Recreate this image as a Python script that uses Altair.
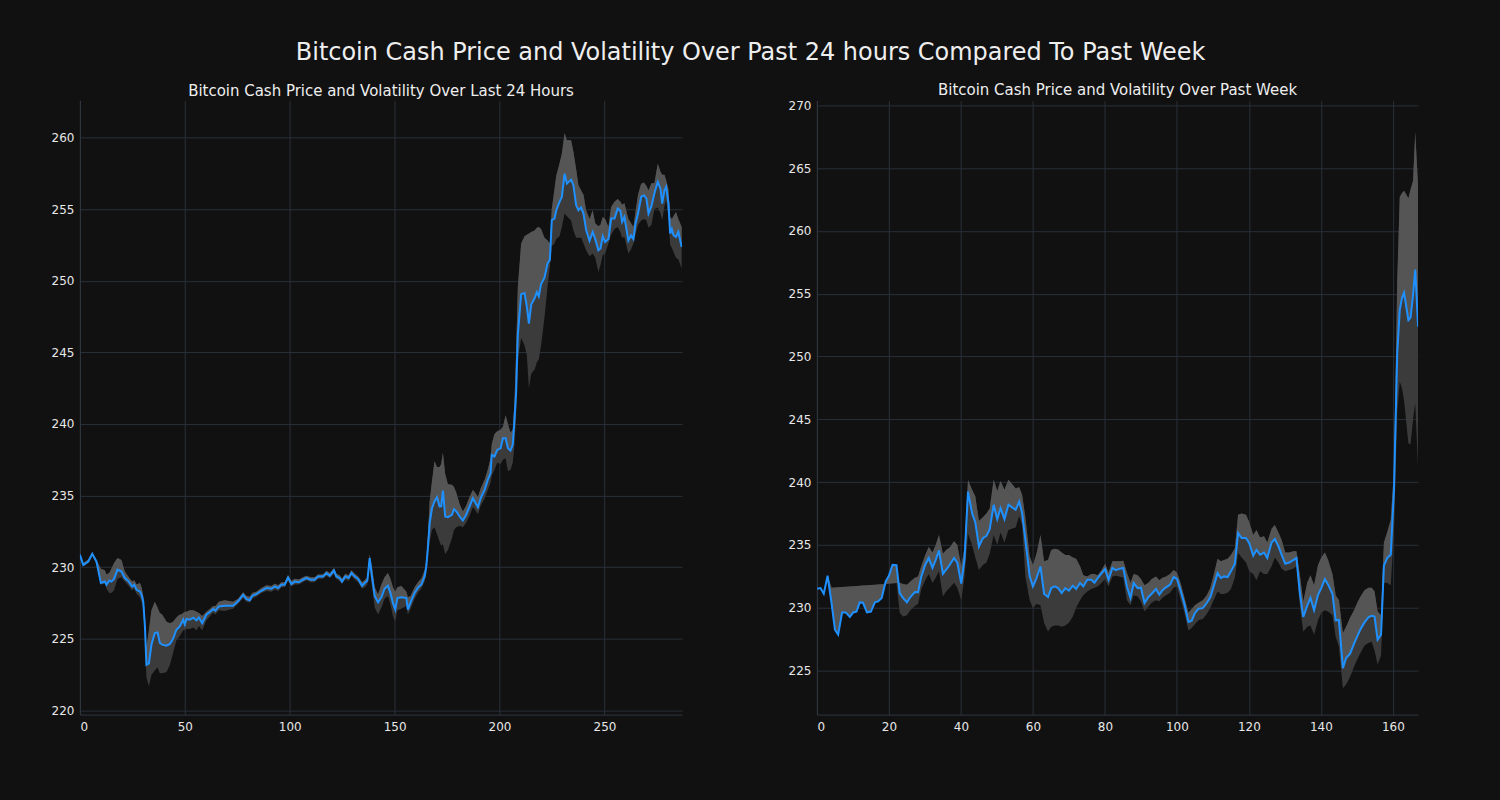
import altair as alt
import pandas as pd

# ---------------- Past 24 hours (5-minute steps) ----------------
day_x = [0, 1.6, 4, 5.9, 7.9, 10, 11.9, 12.7, 14, 15, 16.3, 17.9, 19.8, 21.4, 23.3, 24.9, 25.9, 27, 28.6, 29.4,
         30.2, 31, 31.7, 32.9, 34.1, 35.7, 37, 38.1, 39.2, 41.3, 42.9, 44.4, 46, 47.6, 48.4, 49.2, 50, 50.8, 52.4, 54,
         55.6, 56.7, 58.3, 60.3, 62.7, 63.5, 64.6, 66.2, 69, 73, 75.4, 77.8, 79.4, 81, 82.1, 84.1, 86.5, 88.9, 91.3, 92.9,
         94.5, 96, 97.6, 99.2, 100.8, 102.4, 104.3, 106.3, 107.9, 110, 111.9, 113.5, 115.9, 117.5, 119.1, 121.1, 122.2, 123.8, 124.9, 126.5,
         128.1, 129.4, 131, 132.6, 134.5, 135.7, 137, 138.1, 139.2, 140.5, 142.1, 143.7, 145.2, 146.8, 148, 149.2, 150.3, 151.3, 153.2, 155.6,
         156.3, 157.6, 159.5, 161.4, 162.7, 164.3, 165.1, 165.9, 166.7, 167.8, 169, 170.2, 171.4, 172.2, 173, 174.1, 175.4, 177.3, 178.3, 179.4,
         181, 182.5, 184.1, 185.7, 187.3, 188.4, 189.7, 191, 192.9, 194.4, 195.7, 196.3, 197.6, 198.9, 200.5, 201.6, 202.9, 204, 205.2, 206.3,
         207.1, 207.9, 208.7, 210.3, 211.9, 213, 214, 215.1, 216.7, 217.8, 218.7, 219.8, 221.4, 222.9, 224, 224.9, 226.2, 227, 228.6, 229.7,
         231, 232.1, 234.1, 235.2, 236.5, 237.6, 238.9, 240, 241.3, 242.9, 244.4, 245.6, 247.1, 248.1, 249.2, 250.3, 251.9, 253.2, 254.8, 256.3,
         257.6, 258.4, 259.5, 261.4, 262.7, 263.8, 264.8, 266, 267.5, 268.8, 270, 271, 272.4, 273.8, 275.4, 276.7, 277.5, 278.6, 279.4, 280.5,
         281.3, 282.1, 282.9, 284.1, 285.2, 286.8]
day_price = [230.87, 230.17, 230.4, 230.94, 230.4, 228.9, 229.0, 228.78, 229.08, 229.0, 229.18, 229.83, 229.7, 229.25, 229.0, 228.66, 228.78, 228.43, 228.31, 228.08,
             227.6, 225.87, 223.2, 223.3, 224.6, 225.41, 225.45, 224.72, 224.6, 224.53, 224.65, 225.0, 225.64, 225.87, 226.1, 226.34, 226.0, 226.39, 226.34, 226.48,
             226.3, 226.5, 226.1, 226.69, 226.97, 227.08, 226.97, 227.27, 227.32, 227.32, 227.62, 228.08, 227.78, 227.7, 228.0, 228.13, 228.36, 228.55, 228.5, 228.66,
             228.55, 228.78, 228.78, 229.29, 228.83, 229.0, 228.95, 229.13, 229.25, 229.13, 229.13, 229.36, 229.36, 229.6, 229.41, 229.78, 229.36, 229.25, 229.0, 229.36,
             229.25, 229.6, 229.36, 229.18, 228.71, 228.9, 229.06, 230.64, 229.36, 228.0, 227.55, 227.9, 228.5, 228.71, 228.2, 227.5, 227.04, 227.85, 227.9, 227.85,
             227.04, 227.55, 228.2, 228.62, 228.78, 229.36, 230.06, 231.45, 233.08, 234.12, 234.59, 234.89, 234.24, 234.25, 235.35, 233.54, 233.5, 233.66, 234.05, 233.9,
             233.54, 233.26, 233.66, 234.24, 234.82, 234.52, 234.19, 234.82, 235.4, 236.1, 236.56, 237.84, 237.72, 238.19, 238.3, 239.0, 239.0, 238.3, 238.14, 238.54,
             240.28, 242.14, 246.2, 249.06, 249.14, 248.2, 247.0, 248.34, 248.77, 249.2, 248.9, 249.77, 250.2, 251.2, 251.47, 254.23, 254.33, 254.9, 255.5, 255.84,
             257.47, 256.77, 257.05, 256.66, 255.26, 254.91, 255.1, 254.68, 253.52, 252.78, 253.4, 252.9, 252.13, 252.25, 253.1, 252.7, 252.9, 254.33, 254.33, 255.03,
             254.87, 254.1, 254.45, 252.8, 253.17, 252.9, 253.98, 254.68, 255.84, 255.96, 255.73, 254.68, 255.2, 256.1, 256.89, 256.42, 255.38, 256.3, 256.54, 255.38,
             253.29, 253.6, 253.17, 253.05, 253.4, 252.35]
day_low = [230.7, 230.05, 230.3, 230.8, 230.2, 228.8, 228.85, 228.5, 228.2, 228.2, 228.4, 229.2, 229.3, 229.0, 228.7, 228.4, 228.5, 228.15, 227.9, 227.6,
           227.2, 225.0, 222.3, 221.7, 222.5, 222.8, 223.0, 222.6, 222.6, 222.7, 223.2, 224.0, 224.9, 225.2, 225.4, 225.6, 225.6, 225.7, 225.7, 225.8,
           225.6, 225.9, 225.6, 226.3, 226.7, 226.85, 226.7, 227.0, 226.95, 227.1, 227.45, 227.85, 227.6, 227.55, 227.8, 227.95, 228.2, 228.35, 228.3, 228.45,
           228.35, 228.6, 228.6, 229.05, 228.65, 228.8, 228.8, 228.95, 229.1, 228.95, 228.95, 229.2, 229.2, 229.4, 229.25, 229.55, 229.2, 229.05, 228.85, 229.15,
           229.05, 229.4, 229.15, 228.95, 228.5, 228.6, 228.8, 229.9, 228.7, 227.2, 226.7, 227.2, 227.8, 228.0, 227.4, 226.6, 226.2, 227.0, 227.1, 227.3,
           226.7, 227.1, 227.8, 228.3, 228.5, 229.0, 229.6, 230.8, 231.8, 232.6, 232.8, 232.3, 231.8, 231.5, 231.6, 230.9, 231.2, 232.0, 232.6, 232.8,
           232.9, 232.8, 233.1, 233.6, 234.2, 234.0, 233.7, 234.3, 234.8, 235.4, 235.9, 236.4, 236.8, 237.3, 237.2, 237.5, 237.6, 236.7, 236.8, 237.3,
           238.5, 240.5, 244.5, 246.0, 245.5, 244.8, 242.5, 243.5, 243.8, 244.3, 244.5, 245.5, 247.4, 249.6, 251.0, 252.4, 252.6, 252.9, 253.1, 253.75,
           254.68, 254.5, 254.2, 253.5, 253.0, 253.0, 253.0, 252.6, 252.1, 251.7, 251.9, 251.6, 250.6, 251.1, 251.8, 251.9, 252.6, 253.2, 253.6, 253.75,
           253.4, 253.0, 253.05, 251.9, 252.2, 252.6, 253.2, 253.9, 254.2, 254.3, 254.2, 253.7, 253.9, 255.0, 255.1, 254.7, 254.2, 255.2, 255.6, 254.5,
           252.5, 252.3, 252.0, 251.6, 251.5, 250.85]
day_high = [231.0, 230.3, 230.55, 231.05, 230.5, 229.9, 229.8, 229.5, 229.6, 229.9, 230.3, 230.64, 230.5, 229.7, 229.3, 229.0, 229.1, 228.8, 228.9, 228.6,
            228.0, 226.6, 224.4, 225.6, 227.0, 227.6, 227.2, 226.8, 226.7, 226.2, 226.1, 226.2, 226.5, 226.7, 226.7, 226.8, 226.9, 226.9, 227.0, 227.0,
            226.9, 226.8, 226.6, 226.9, 227.2, 227.3, 227.3, 227.6, 227.7, 227.6, 227.8, 228.25, 228.0, 227.95, 228.2, 228.3, 228.55, 228.75, 228.7, 228.85,
            228.75, 228.95, 228.95, 229.45, 229.05, 229.2, 229.15, 229.3, 229.4, 229.3, 229.3, 229.5, 229.5, 229.75, 229.6, 229.95, 229.55, 229.45, 229.2, 229.55,
            229.45, 229.8, 229.55, 229.35, 228.95, 229.1, 229.3, 230.9, 230.0, 228.6, 228.1, 228.8, 229.3, 229.6, 229.2, 228.6, 228.3, 228.6, 228.7, 228.3,
            227.9, 228.0, 228.6, 229.0, 229.2, 229.8, 230.5, 232.3, 234.6, 236.0, 237.4, 237.0, 237.0, 237.2, 238.0, 236.5, 235.8, 235.75, 235.6, 235.2,
            234.4, 233.9, 234.3, 234.9, 235.4, 235.2, 234.9, 235.5, 236.1, 236.8, 237.6, 238.6, 239.3, 239.5, 239.6, 239.8, 240.6, 240.0, 239.4, 239.6,
            241.5, 245.0, 249.5, 252.6, 253.1, 253.2, 253.3, 253.4, 253.5, 253.7, 253.75, 253.6, 253.0, 252.8, 252.6, 255.0, 256.4, 257.3, 258.2, 258.86,
            260.3, 259.8, 259.8, 259.0, 257.8, 256.66, 256.3, 256.0, 254.9, 254.3, 254.91, 254.0, 253.8, 253.9, 254.45, 254.3, 253.75, 255.14, 255.5, 255.7,
            255.5, 255.3, 255.4, 254.3, 254.0, 253.75, 254.8, 256.0, 256.77, 256.85, 256.6, 256.3, 256.8, 256.8, 258.16, 257.6, 257.4, 257.4, 257.0, 256.4,
            254.45, 254.3, 254.5, 254.8, 254.3, 253.75]

# ---------------- Past week (hourly) ----------------
week_x = [0.1, 1, 1.9, 2.97, 4.07, 5, 5.9, 7.0, 8.0, 9.15, 10.1, 11.0, 11.9, 12.8, 13.9, 15, 16.1, 17, 18, 19.1,
          20, 21, 22.1, 23, 23.9, 25.0, 25.97, 27.2, 28.1, 29.0, 30.1, 31.06, 32.1, 33.0, 33.9, 35.0, 35.9, 36.9, 38.1, 39,
          40.1, 41.0, 41.97, 43.1, 44.0, 45.0, 46.1, 47.1, 48.0, 49.1, 50.1, 51.0, 52.1, 53.2, 54.1, 55.2, 56.2, 57.0, 57.9, 59.1,
          60, 61.0, 62.1, 63.1, 64.2, 65.1, 66.1, 67.0, 68.0, 69.0, 70.0, 71.1, 72.0, 73.1, 74.0, 75.1, 76.2, 77.1, 78.0, 79.1,
          80.06, 81.0, 82.1, 83.0, 84.0, 85.1, 86.1, 87.1, 88.0, 89.1, 90.0, 91.0, 92.1, 93.0, 94.2, 95.1, 96.0, 97.0, 98.1, 99.1,
          100, 101.1, 102.0, 103.2, 104.1, 105.0, 106.0, 107.2, 108.3, 109.3, 110.2, 111.3, 112.2, 113.1, 114.1, 115.0, 116.1, 117.0, 117.97, 119.2,
          120.1, 121.2, 122.1, 123.1, 124.2, 125.1, 126.3, 127.2, 128.2, 129.1, 130.1, 131.2, 132.3, 133.2, 134.2, 135.1, 136.2, 137.1, 138.1, 139.2,
          140.1, 141.1, 142.0, 143.2, 144.1, 145.0, 146.1, 147.0, 148.1, 149.2, 150.1, 151.0, 152.1, 153.2, 154.1, 154.9, 155.75, 156.7, 157.5, 158.4,
          159.4, 160.3, 161.2, 161.9, 162.5, 163.1, 164.3, 164.9, 165.6, 166.2, 167.0]
week_price = [231.51, 231.57, 231.12, 232.55, 230.38, 228.26, 227.86, 229.63, 229.63, 229.27, 229.63, 229.7, 230.43, 230.4, 229.63, 229.7, 230.43, 230.51, 230.78, 232.1,
              232.55, 233.43, 233.4, 231.17, 230.78, 230.43, 230.86, 231.26, 231.25, 232.5, 233.43, 233.96, 233.17, 233.82, 234.56, 232.7, 233.03, 233.43, 233.96, 233.6,
              231.92, 233.88, 239.25, 237.53, 236.8, 234.88, 235.55, 235.73, 236.26, 238.2, 237.06, 237.93, 237.06, 238.2, 238.01, 237.8, 238.46, 237.53, 235.41, 232.5,
              231.7, 232.37, 233.29, 231.12, 230.86, 231.57, 231.7, 231.57, 231.17, 231.57, 231.36, 231.76, 231.5, 231.97, 231.7, 232.23, 232.23, 232.0, 232.37, 232.76,
              233.08, 232.23, 233.17, 233.0, 233.1, 233.17, 231.7, 230.78, 231.97, 231.57, 231.6, 230.38, 230.86, 231.12, 231.5, 231.04, 231.4, 231.63, 231.84, 232.45,
              232.3, 231.3, 230.38, 228.87, 228.97, 229.58, 229.93, 229.97, 230.38, 230.86, 231.7, 232.76, 232.37, 232.5, 232.45, 232.9, 233.5, 235.95, 235.55, 235.55,
              235.15, 234.14, 234.62, 234.22, 234.4, 233.96, 235.2, 235.47, 234.9, 234.22, 233.5, 233.6, 233.8, 233.96, 231.04, 229.27, 230.17, 230.78, 229.8, 231.04,
              231.57, 232.29, 231.84, 231.12, 229.0, 229.03, 225.2, 226.0, 226.35, 227.15, 227.73, 228.3, 228.84, 229.24, 229.37, 229.3, 227.46, 227.86, 233.35, 233.96,
              234.22, 239.4, 250.26, 253.7, 254.63, 255.07, 252.9, 253.1, 254.9, 256.93, 252.37]
week_low = [231.51, 231.57, 231.12, 232.55, 230.38, 228.26, 227.86, 229.63, 229.63, 229.27, 229.63, 229.7, 230.43, 230.4, 229.63, 229.7, 230.43, 230.51, 230.78, 231.9,
            231.92, 231.94, 231.97, 229.6, 229.3, 229.4, 229.8, 230.15, 230.3, 231.5, 232.2, 232.7, 231.97, 232.4, 232.9, 230.9, 231.3, 231.6, 232.0, 231.6,
            230.6, 232.5, 235.9, 235.0, 234.0, 233.0, 233.4, 233.6, 234.3, 235.8, 235.0, 236.0, 235.2, 236.2, 236.3, 236.4, 237.3, 236.6, 232.5, 230.6,
            229.98, 230.3, 230.2, 228.8, 228.12, 228.5, 228.6, 228.6, 228.5, 228.6, 228.8, 229.3, 230.0, 230.6, 231.0, 231.3, 231.5, 231.6, 231.7, 232.0,
            232.3, 231.7, 232.5, 232.55, 232.5, 232.4, 230.6, 230.2, 231.0, 230.9, 230.5, 229.7, 230.1, 230.4, 230.6, 230.5, 230.8, 231.0, 231.2, 231.6,
            231.7, 230.6, 229.7, 228.2, 228.4, 228.7, 229.0, 229.1, 229.5, 230.0, 230.6, 231.3, 231.1, 231.1, 231.2, 231.5, 232.4, 234.36, 234.0, 233.6,
            232.9, 232.7, 232.2, 232.9, 232.7, 232.7, 233.3, 234.0, 233.6, 233.1, 232.9, 233.0, 233.1, 233.3, 230.0, 228.1, 228.5, 228.6, 227.86, 229.0,
            229.6, 229.8, 229.7, 229.4, 227.7, 226.9, 223.6, 223.9, 224.5, 225.3, 225.9, 226.4, 227.0, 227.2, 227.3, 226.6, 225.48, 226.2, 232.0, 232.0,
            231.8, 236.0, 245.5, 248.0, 247.5, 246.5, 243.1, 243.0, 245.0, 246.3, 241.0]
week_high = [231.51, 231.57, 231.12, 232.55, 231.6, 231.62, 231.64, 231.66, 231.68, 231.7, 231.72, 231.74, 231.76, 231.78, 231.8, 231.82, 231.84, 231.86, 231.88, 231.9,
             231.92, 231.94, 231.97, 232.0, 231.9, 231.84, 232.1, 232.4, 232.5, 233.3, 234.2, 234.83, 234.4, 235.0, 235.8, 234.3, 234.6, 234.8, 235.3, 235.0,
             233.3, 234.8, 240.18, 239.4, 238.87, 236.9, 237.2, 237.5, 237.9, 240.2, 239.3, 240.1, 239.4, 240.2, 239.9, 239.5, 239.6, 239.0, 237.2, 234.1,
             233.4, 234.3, 235.8, 233.7, 233.8, 234.6, 234.7, 234.65, 234.4, 234.2, 234.2, 234.0, 233.9, 233.3, 232.6, 232.5, 232.7, 232.7, 232.6, 233.0,
             233.5, 232.8, 233.7, 233.7, 233.7, 233.74, 232.8, 232.0, 232.7, 232.6, 232.3, 231.8, 232.0, 232.3, 232.5, 232.2, 232.4, 232.5, 232.7, 233.0,
             232.8, 231.9, 230.9, 229.6, 229.9, 230.2, 230.4, 230.6, 231.0, 231.6, 232.6, 233.9, 233.7, 233.8, 233.9, 234.2, 234.75, 237.4, 237.5, 237.4,
             236.8, 235.8, 236.2, 235.6, 235.7, 235.2, 236.3, 236.6, 236.0, 235.4, 234.4, 234.4, 234.5, 234.5, 232.5, 230.5, 232.0, 232.6, 231.8, 233.4,
             234.0, 234.4, 233.8, 232.7, 231.0, 230.6, 228.0, 228.5, 229.2, 229.8, 230.4, 230.9, 231.4, 231.6, 231.6, 231.3, 229.7, 229.4, 235.2, 236.0,
             237.0, 241.0, 256.0, 262.7, 263.0, 263.2, 262.6, 263.3, 264.0, 267.87, 263.5]

BG = "#111111"
GRID = "#29303a"
FONT = "DejaVu Sans"


def panel(x, price, low, high, title, xdom, ydom, xticks, yticks, width, height):
    df = pd.DataFrame({"x": x, "price": price, "low": low, "high": high})
    xenc = alt.X("x:Q", scale=alt.Scale(domain=xdom, nice=False, zero=False),
                 axis=alt.Axis(values=xticks, title=None, format="d", labelPadding=7))
    yscale = alt.Scale(domain=ydom, nice=False, zero=False)
    yaxis = alt.Axis(values=yticks, title=None, format="d")
    base = alt.Chart(df)
    band = base.mark_area(color="#3b3b3b", clip=True).encode(
        x=xenc, y=alt.Y("low:Q", scale=yscale, axis=yaxis), y2="high:Q")
    upper = base.mark_area(color="#555555", clip=True).encode(
        x=xenc, y=alt.Y("price:Q", scale=yscale, axis=yaxis), y2="high:Q")
    line = base.mark_line(color="#1e90ff", strokeWidth=2, clip=True).encode(
        x=xenc, y=alt.Y("price:Q", scale=yscale, axis=yaxis))
    return alt.layer(band, upper, line).properties(
        width=width, height=height,
        title=alt.TitleParams(title, fontSize=15, font=FONT, color="#eeeeee",
                              fontWeight="normal", offset=1, anchor="middle"))


left = panel(day_x, day_price, day_low, day_high,
             "Bitcoin Cash Price and Volatility Over Last 24 Hours",
             [0, 287], [219.72, 262.58], [0, 50, 100, 150, 200, 250],
             [220, 225, 230, 235, 240, 245, 250, 255, 260], 603, 615)
right = panel(week_x, week_price, week_low, week_high,
              "Bitcoin Cash Price and Volatility Over Past Week",
              [0, 167], [221.5, 270.39], [0, 20, 40, 60, 80, 100, 120, 140, 160],
              [225, 230, 235, 240, 245, 250, 255, 260, 265, 270], 602, 615)

chart = alt.hconcat(left, right, spacing=106).properties(
    title=alt.TitleParams("Bitcoin Cash Price and Volatility Over Past 24 hours Compared To Past Week",
                          fontSize=24, font=FONT, color="#eeeeee", fontWeight="normal",
                          anchor="middle", offset=18, dx=16),
    background=BG,
    padding={"left": 51, "top": 40, "right": 82, "bottom": 67},
).configure_view(strokeWidth=0).configure_axis(
    grid=True, gridColor=GRID, gridWidth=1, domainColor="#2f3743", domainWidth=1,
    tickSize=0, labelColor="#e8e8e8", labelFont=FONT, labelFontSize=12, labelPadding=6,
)

chart.save("out.html", embed_options={"renderer": "svg", "actions": False})
